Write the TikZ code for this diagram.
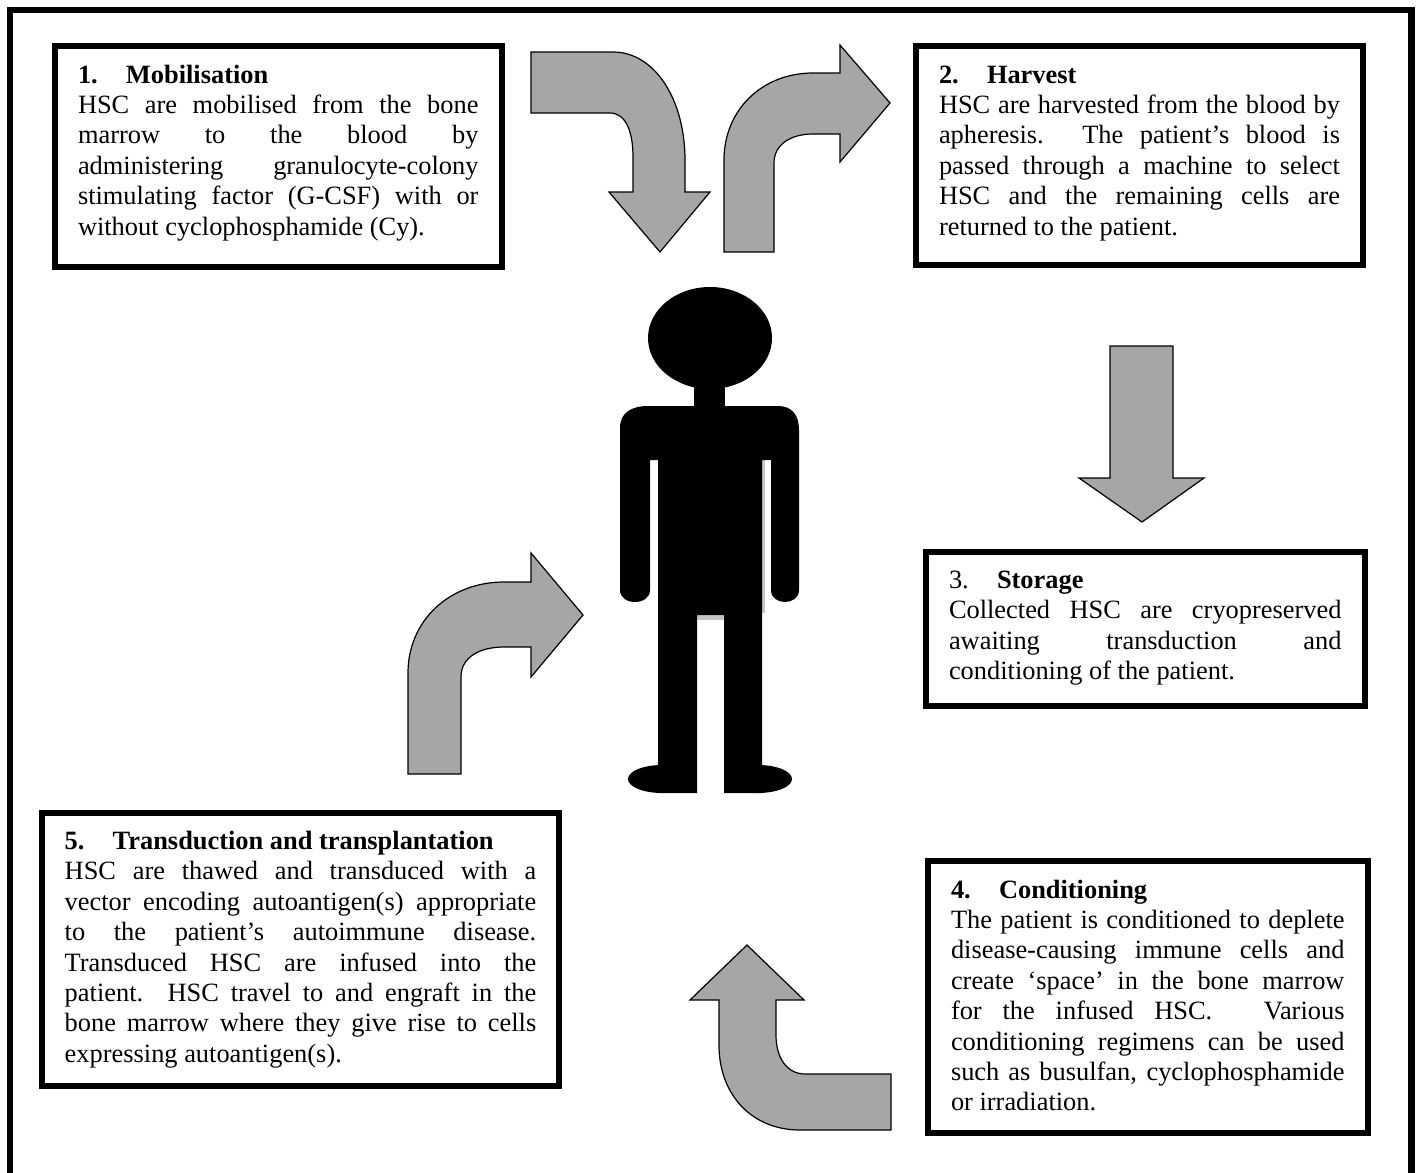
\documentclass[tikz,border=0pt]{standalone}
\usepackage{fontspec}
\setmainfont{Liberation Serif}
\definecolor{arrowgray}{RGB}{166,166,166}
\newcommand{\boxhead}[2]{\rule{0pt}{9.5pt}\makebox[24pt][l]{#1}\textbf{#2}\newline}
\newcommand{\boxend}[1]{\rule[-#1]{0pt}{0pt}}
\hbadness=10000

\begin{document}
\begin{tikzpicture}[x=0.5pt,y=-0.5pt,
    stepbox/.style={draw,line width=3pt,outer sep=0pt,inner xsep=11.5pt,inner ysep=9pt,text width=#1,align=justify,anchor=north west,font=\fontsize{13.2pt}{15.2pt}\selectfont},
    bentarrow/.style={fill=arrowgray,draw=black,line width=0.6pt,line join=miter},
    silhouette/.style={fill=black}]
    \useasboundingbox (0,0) rectangle (1421,1173);
    \draw[line width=3.25pt] (10,1173)--(10,10)--(1411.5,10)--(1411.5,1173);
    \node[stepbox=200.25pt] (mobil) at (55,46) {\boxhead{\textbf{1.}}{Mobilisation}
        HSC are mobilised from the bone\linebreak
        marrow to the blood by\linebreak
        administering granulocyte-colony\linebreak
        stimulating factor (G-CSF) with or\linebreak
        without cyclophosphamide (Cy).\boxend{7.2pt}};
    \node[stepbox=200.5pt] (harvest) at (916,46) {\boxhead{\textbf{2.}}{Harvest}
        HSC are harvested from the blood by\linebreak
        apheresis. The patient’s blood is\linebreak
        passed through a machine to select\linebreak
        HSC and the remaining cells are\linebreak
        returned to the patient.\boxend{6pt}};
    \node[stepbox=196.25pt] (storage) at (926,551.5) {\boxhead{3.}{Storage}
        Collected HSC are cryopreserved\linebreak
        awaiting transduction and\linebreak
        conditioning of the patient.\boxend{4.15pt}};
    \node[stepbox=196.75pt] (condit) at (928,861) {\boxhead{\textbf{4.}}{Conditioning}
        The patient is conditioned to deplete\linebreak
        disease-causing immune cells and\linebreak
        create ‘space’ in the bone marrow\linebreak
        for the infused HSC\@. Various\linebreak
        conditioning regimens can be used\linebreak
        such as busulfan, cyclophosphamide\linebreak
        or irradiation.\boxend{1.85pt}};
    \node[stepbox=235.75pt] (transd) at (41.75,812.5) {\boxhead{\textbf{5.}}{Transduction and transplantation}
        HSC are thawed and transduced with a\linebreak
        vector encoding autoantigen(s) appropriate\linebreak
        to the patient’s autoimmune disease.\linebreak
        Transduced HSC are infused into the\linebreak
        patient. HSC travel to and engraft in the\linebreak
        bone marrow where they give rise to cells\linebreak
        expressing autoantigen(s).\boxend{2.6pt}};
    % arrows
    \path[bentarrow] (531,52)--(613,52) .. controls (655,52) and (685,100) .. (685,160)--(685,192)--(710,192)--(660,252)--(609,192)--(633,192)--(633,157) .. controls (633,130) and (625,113) .. (610,113)--(531,113)--cycle;
    \path[bentarrow] (724,252)--(724,160) .. controls (724,110) and (762,73) .. (813,73)--(840,73)--(840,45)--(890,103)--(840,162)--(840,134)--(813,134) .. controls (790,134) and (774,145) .. (774,163)--(774,252)--cycle;
    \path[bentarrow] (1110,346)--(1173,346)--(1173,478)--(1204,478)--(1142,522)--(1079,478)--(1110,478)--cycle;
    \path[bentarrow] (891,1074)--(805,1074) .. controls (787,1074) and (776,1058) .. (776,1035)--(776,1000)--(804,1000)--(747,945)--(690,1000)--(719,1000)--(719,1045) .. controls (719,1095) and (752,1130) .. (800,1130)--(891,1130)--cycle;
    \path[bentarrow] (408,774)--(408,673) .. controls (408,620) and (450,582) .. (504,582)--(531,582)--(531,553)--(583,615)--(531,677)--(531,647)--(504,647) .. controls (480,647) and (461,657) .. (461,677)--(461,774)--cycle;
    % person
    \fill[gray!45] (697,612) rectangle (724,620);
    \fill[gray!45] (760,460) rectangle (765,613);
    \path[silhouette] (710,338) ellipse [x radius=62,y radius=51];
    \path[silhouette] (694,380) rectangle (725,410);
    \path[silhouette] (620,590)--(620,428) .. controls (620,413) and (631,406) .. (648,406)--(778,406) .. controls (792,406) and (799,415) .. (799,430)--(799,590) .. controls (799,606) and (771,606) .. (771,590)--(771,460)--(762,460)--(762,793)--(724,793)--(724,615)--(697,615)--(697,793)--(658,793)--(658,460)--(650,460)--(650,590) .. controls (650,606) and (620,606) .. (620,590)--cycle;
    \path[silhouette] (662,779) ellipse [x radius=34,y radius=14];
    \path[silhouette] (758,779) ellipse [x radius=34,y radius=14];
\end{tikzpicture}
\end{document}
